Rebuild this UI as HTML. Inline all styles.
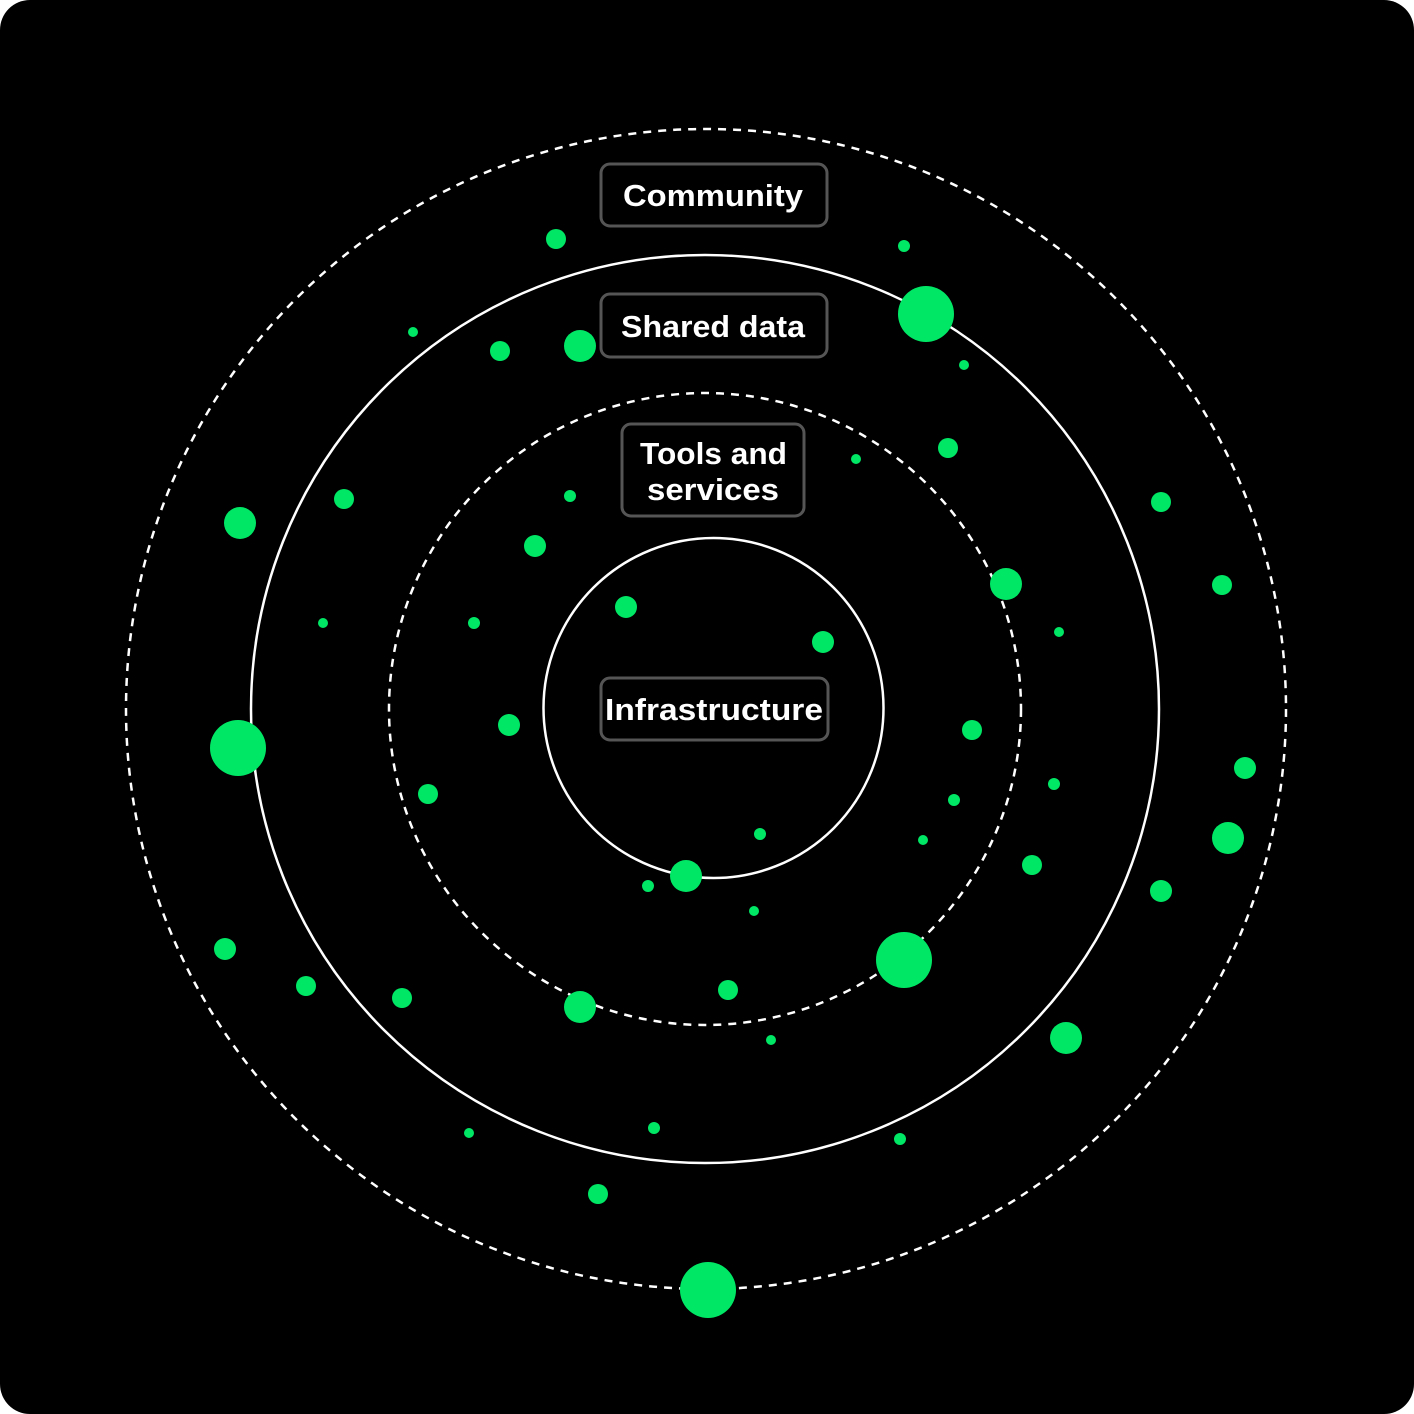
<!DOCTYPE html>
<html><head><meta charset="utf-8"><style>
html,body{margin:0;padding:0;background:#fff;}
svg{display:block;}
text{font-family:"Liberation Sans",sans-serif;font-weight:bold;font-size:31px;fill:#fff;}
</style></head><body>
<svg width="1414" height="1414" viewBox="0 0 1414 1414" xmlns="http://www.w3.org/2000/svg">
<rect x="0" y="0" width="1414" height="1414" rx="30" fill="#000"/>
<g fill="none" stroke="#fff" stroke-width="2.5">
<circle cx="706" cy="709" r="580" stroke-dasharray="8 7"/>
<circle cx="705" cy="709" r="454"/>
<circle cx="705" cy="709" r="316" stroke-dasharray="8 7"/>
<circle cx="713.5" cy="708" r="170"/>
</g>
<g fill="#00e765">
<circle cx="556" cy="239" r="10"/><circle cx="904" cy="246" r="6"/><circle cx="926" cy="314" r="28"/>
<circle cx="413" cy="332" r="5"/><circle cx="500" cy="351" r="10"/><circle cx="580" cy="346" r="16"/>
<circle cx="964" cy="365" r="5"/><circle cx="948" cy="448" r="10"/><circle cx="856" cy="459" r="5"/>
<circle cx="570" cy="496" r="6"/><circle cx="240" cy="523" r="16"/><circle cx="344" cy="499" r="10"/>
<circle cx="1161" cy="502" r="10"/><circle cx="535" cy="546" r="11"/><circle cx="1006" cy="584" r="16"/>
<circle cx="1222" cy="585" r="10"/><circle cx="626" cy="607" r="11"/><circle cx="823" cy="642" r="11"/>
<circle cx="323" cy="623" r="5"/><circle cx="474" cy="623" r="6"/><circle cx="1059" cy="632" r="5"/>
<circle cx="509" cy="725" r="11"/><circle cx="972" cy="730" r="10"/><circle cx="238" cy="748" r="28"/>
<circle cx="1245" cy="768" r="11"/><circle cx="428" cy="794" r="10"/><circle cx="954" cy="800" r="6"/>
<circle cx="1054" cy="784" r="6"/><circle cx="760" cy="834" r="6"/><circle cx="923" cy="840" r="5"/>
<circle cx="1228" cy="838" r="16"/><circle cx="686" cy="876" r="16"/><circle cx="648" cy="886" r="6"/>
<circle cx="1032" cy="865" r="10"/><circle cx="1161" cy="891" r="11"/><circle cx="754" cy="911" r="5"/>
<circle cx="904" cy="960" r="28"/><circle cx="225" cy="949" r="11"/><circle cx="306" cy="986" r="10"/>
<circle cx="402" cy="998" r="10"/><circle cx="580" cy="1007" r="16"/><circle cx="728" cy="990" r="10"/>
<circle cx="771" cy="1040" r="5"/><circle cx="1066" cy="1038" r="16"/><circle cx="469" cy="1133" r="5"/>
<circle cx="654" cy="1128" r="6"/><circle cx="900" cy="1139" r="6"/><circle cx="598" cy="1194" r="10"/>
<circle cx="708" cy="1290" r="28"/>
</g>
<g fill="#000" stroke="#555" stroke-width="3">
<rect x="601" y="164" width="226" height="62" rx="9"/>
<rect x="601" y="294" width="226" height="63" rx="9"/>
<rect x="622" y="424" width="182" height="92" rx="9"/>
<rect x="601" y="678" width="227" height="62" rx="9"/>
</g>
<g>
<text x="623" y="206" textLength="180" lengthAdjust="spacingAndGlyphs">Community</text>
<text x="621" y="337" textLength="184" lengthAdjust="spacingAndGlyphs">Shared data</text>
<text x="640" y="464" textLength="147" lengthAdjust="spacingAndGlyphs">Tools and</text>
<text x="647" y="500" textLength="132" lengthAdjust="spacingAndGlyphs">services</text>
<text x="605" y="720" textLength="218" lengthAdjust="spacingAndGlyphs">Infrastructure</text>
</g>
</svg>
</body></html>
